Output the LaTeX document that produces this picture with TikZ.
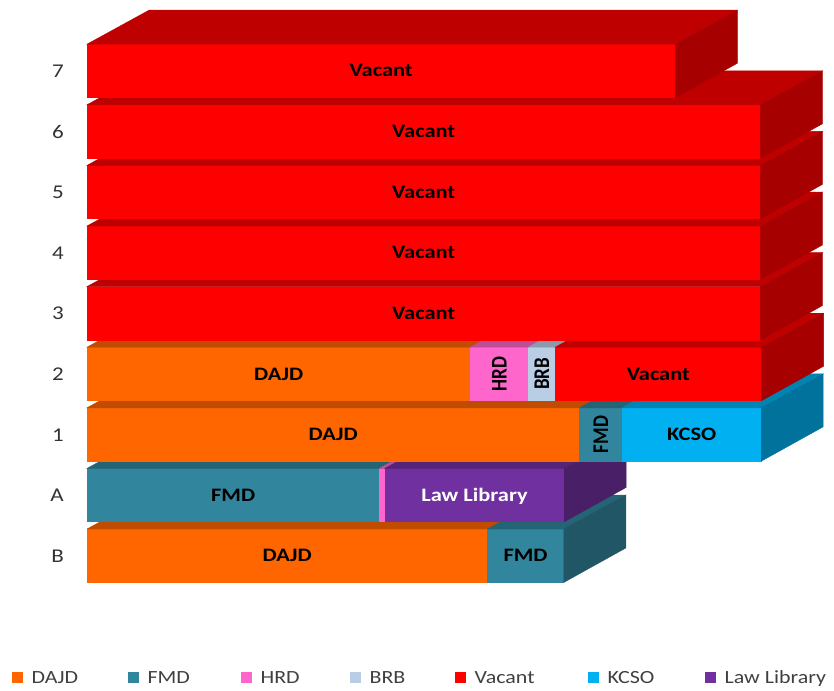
\documentclass[tikz,border=0pt]{standalone}
\usepackage{fontspec}
\setmainfont{Carlito}[FakeStretch=1.18]
\newfontfamily\uprightfont{Carlito}
\usepackage{graphicx}
\usepackage{tikz}
\usetikzlibrary{positioning}
\definecolor{dajdorange}{HTML}{FF6600}
\definecolor{fmdteal}{HTML}{31859C}
\definecolor{hrdpink}{HTML}{FF66CC}
\definecolor{brbblue}{HTML}{B9CDE5}
\definecolor{vacantred}{HTML}{FF0000}
\definecolor{kcsocyan}{HTML}{00B0F0}
\definecolor{lawpurple}{HTML}{7030A0}
% top and right side of a block, taken from the front face node
\newcommand{\topface}[2]{%
	\filldraw[#2!75!black, line width=0.4pt] (#1.north west) -- ++(62,-34) -- ([shift={(62,-34)}]#1.north east) -- (#1.north east) -- cycle;}
\newcommand{\sideface}[2]{%
	\filldraw[#2!65!black, line width=0.4pt] (#1.north east) -- ++(62,-34) -- ++(0,53) -- (#1.south east) -- cycle;}
\newcommand{\uptext}[1]{\scalebox{1}[1.18]{\uprightfont\bfseries #1}}

\begin{document}
\begin{tikzpicture}[
x=1pt, y=-1pt,
bartext/.style = {text=black, font=\fontsize{19}{19}\selectfont\bfseries},
face/.style = {bartext, anchor=north west, inner sep=0pt, minimum height=53pt, text height=12.2pt, text depth=0pt,
	fill=#1, draw=#1, line width=0.4pt},
uplabel/.style = {text=black, rotate=90, inner sep=0pt, font=\fontsize{19}{19}\selectfont},
floorlabel/.style = {text=black!80, anchor=east, inner sep=0pt, font=\fontsize{19.5}{19.5}\selectfont},
legendbox/.style = {anchor=west, inner sep=0pt, minimum size=11pt},
legendtext/.style = {text=black!75, inner sep=0pt, text height=12pt, text depth=0pt, font=\fontsize{18.6}{18.6}\selectfont}
]
\useasboundingbox (0,0) rectangle (834,690);

% floor B
\node[face=dajdorange, minimum width=400pt] (dajdB) at (87,529) {DAJD};
\node[face=fmdteal, minimum width=76pt] (fmdB) at (dajdB.north east) {FMD};
\topface{dajdB}{dajdorange}
\topface{fmdB}{fmdteal}
\sideface{fmdB}{fmdteal}

% floor A
\node[face=fmdteal, minimum width=292pt] (fmdA) at (87,468.4) {FMD};
\node[face=hrdpink, minimum width=5pt] (hrdA) at (fmdA.north east) {};
\node[face=lawpurple, minimum width=179pt, text=white] (lawA) at (hrdA.north east) {Law Library};
\topface{fmdA}{fmdteal}
\topface{hrdA}{hrdpink}
\topface{lawA}{lawpurple}
\sideface{lawA}{lawpurple}

% floor 1
\node[face=dajdorange, minimum width=492pt] (dajd1) at (87,407.8) {DAJD};
\node[face=fmdteal, minimum width=42.5pt] (fmd1) at (dajd1.north east) {};
\node[face=kcsocyan, minimum width=138.5pt] (kcso1) at (fmd1.north east) {KCSO};
\node[uplabel] (fmd1txt) at (fmd1) {\uptext{FMD}};
\topface{dajd1}{dajdorange}
\topface{fmd1}{fmdteal}
\topface{kcso1}{kcsocyan}
\sideface{kcso1}{kcsocyan}

% floor 2
\node[face=dajdorange, minimum width=383pt] (dajd2) at (87,347.2) {DAJD};
\node[face=hrdpink, minimum width=57.5pt] (hrd2) at (dajd2.north east) {};
\node[face=brbblue, minimum width=26.5pt] (brb2) at (hrd2.north east) {};
\node[face=vacantred, minimum width=206pt] (vac2) at (brb2.north east) {Vacant};
\node[uplabel] (hrd2txt) at (hrd2) {\uptext{HRD}};
\node[uplabel] (brb2txt) at (brb2) {\uptext{BRB}};
\topface{dajd2}{dajdorange}
\topface{hrd2}{hrdpink}
\topface{brb2}{brbblue}
\topface{vac2}{vacantred}
\sideface{vac2}{vacantred}

% floors 3 to 6, all vacant
\foreach \k in {4,...,7} {
	\node[face=vacantred, minimum width=673pt] (vac\k) at (87,{529-60.6*\k}) {Vacant};
	\topface{vac\k}{vacantred}
	\sideface{vac\k}{vacantred}
}

% floor 7
\node[face=vacantred, minimum width=588pt] (vac8) at (87,44.2) {Vacant};
\topface{vac8}{vacantred}
\sideface{vac8}{vacantred}

% floor names
\foreach \lab [count=\k from 0] in {B,A,1,2,3,4,5,6,7}
	\node[floorlabel] (floor\k) at (64,{556-60.6*\k}) {\lab};

% legend
\foreach \nm/\col/\x in {DAJD/dajdorange/12, FMD/fmdteal/128, HRD/hrdpink/241, BRB/brbblue/350,
		Vacant/vacantred/455, KCSO/kcsocyan/588, Law Library/lawpurple/705} {
	\node[legendbox, fill=\col] (key\col) at (\x,677) {};
	\node[legendtext, right=8pt of key\col] (keytext\col) {\nm};
}
\end{tikzpicture}
\end{document}
